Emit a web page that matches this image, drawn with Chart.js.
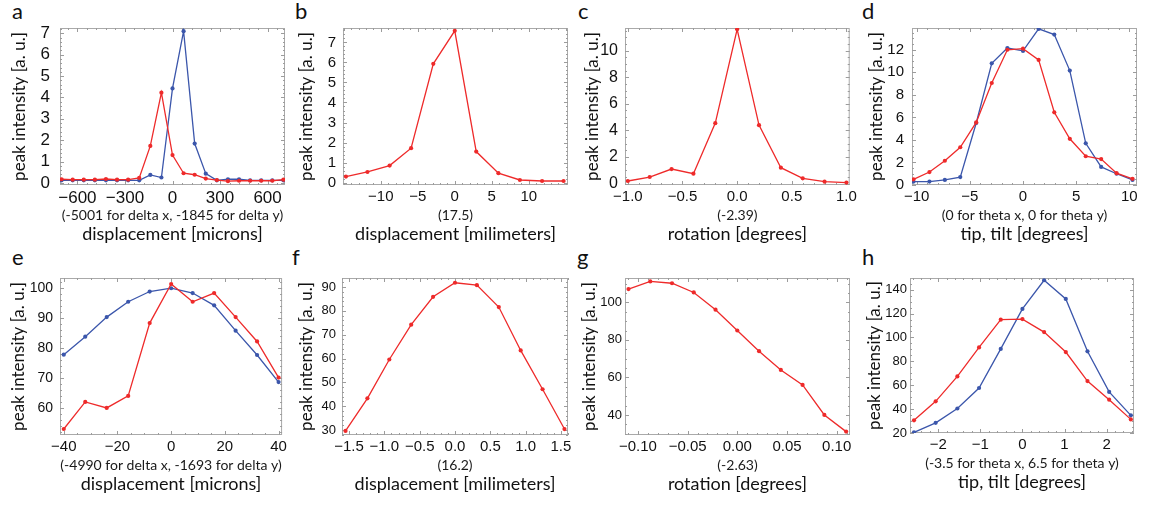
<!DOCTYPE html>
<html>
<head>
<meta charset="utf-8">
<script src="https://cdn.jsdelivr.net/npm/chart.js@4.4.0/dist/chart.umd.min.js"></script>
<style>
  body { margin: 0; background: #fff; width: 1165px; height: 506px; position: relative; overflow: hidden; }
  .panel { position: absolute; }
  .letter { position: absolute; font-family: Lato, sans-serif; font-size: 22px; color: #111; line-height: 1; }
</style>
</head>
<body>
<div class="letter" style="left:12px;top:0px">a</div>
<div class="letter" style="left:295px;top:0px">b</div>
<div class="letter" style="left:578px;top:0px">c</div>
<div class="letter" style="left:862px;top:0px">d</div>
<div class="letter" style="left:12px;top:246px">e</div>
<div class="letter" style="left:292px;top:246px">f</div>
<div class="letter" style="left:577px;top:246px">g</div>
<div class="letter" style="left:862px;top:246px">h</div>

<script>
// panel a: displacement, microns
const aX = [-700, -630, -560, -490, -420, -350, -280, -210, -140, -70, 0, 70, 140, 210, 280, 350, 420, 490, 560, 630, 700];
const aRed = [0.17, 0.15, 0.15, 0.15, 0.18, 0.15, 0.15, 0.23, 1.73, 4.22, 1.3, 0.45, 0.38, 0.2, 0.13, 0.08, 0.1, 0.1, 0.1, 0.1, 0.15];
const aBlue = [0.12, 0.12, 0.12, 0.12, 0.12, 0.12, 0.12, 0.12, 0.37, 0.25, 4.42, 7.1, 1.84, 0.43, 0.12, 0.17, 0.17, 0.12, 0.12, 0.12, 0.12];
const aXTicks = [-600, -300, 0, 300, 600];
const aYTicks = [0, 1, 2, 3, 4, 5, 6, 7];

// panel b: displacement, millimeters
const bX = [-14.7, -11.8, -8.8, -5.9, -2.9, 0, 2.9, 5.9, 8.8, 11.8, 14.7];
const bRed = [0.3, 0.53, 0.85, 1.72, 5.93, 7.58, 1.55, 0.47, 0.13, 0.08, 0.08];
const bXTicks = [-10, -5, 0, 5, 10];
const bYTicks = [0, 1, 2, 3, 4, 5, 6, 7];

// panel c: rotation
const cX = [-1, -0.8, -0.6, -0.4, -0.2, 0, 0.2, 0.4, 0.6, 0.8, 1];
const cRed = [0.2, 0.5, 1.1, 0.75, 4.55, 11.6, 4.4, 1.2, 0.4, 0.15, 0.08];
const cXTicks = [-1, -0.5, 0, 0.5, 1];
const cYTicks = [0, 2, 4, 6, 8, 10];

// panel d: tip / tilt
const dX = [-10.3, -8.8, -7.35, -5.9, -4.4, -2.94, -1.47, 0, 1.47, 2.94, 4.4, 5.9, 7.35, 8.8, 10.3];
const dRed = [0.5, 1.15, 2.15, 3.35, 5.55, 9.05, 12.0, 12.1, 11.1, 6.45, 4.1, 2.55, 2.3, 1.05, 0.55];
const dBlue = [0.3, 0.3, 0.45, 0.7, 5.5, 10.8, 12.15, 11.9, 13.85, 13.35, 10.15, 3.7, 1.6, 1.0, 0.45];
const dXTicks = [-10, -5, 0, 5, 10];
const dYTicks = [0, 2, 4, 6, 8, 10, 12];

// panel e
const eX = [-40, -32, -24, -16, -8, 0, 8, 16, 24, 32, 40];
const eRed = [53.1, 62.1, 60.1, 64.1, 88.3, 101.3, 95.4, 98.3, 90.3, 82.2, 70.2];
const eBlue = [77.8, 83.8, 90.3, 95.4, 98.8, 99.9, 98.3, 94.2, 85.8, 77.7, 68.7];
const eXTicks = [-40, -20, 0, 20, 40];
const eYTicks = [60, 70, 80, 90, 100];

// panel f
const fX = [-1.55, -1.24, -0.93, -0.62, -0.31, 0, 0.31, 0.62, 0.93, 1.24, 1.55];
const fRed = [29.6, 43.3, 59.6, 74.2, 85.9, 91.8, 90.8, 81.6, 63.4, 47.1, 30.4];
const fXTicks = [-1.5, -1, -0.5, 0, 0.5, 1, 1.5];
const fYTicks = [30, 40, 50, 60, 70, 80, 90];

// panel g
const gX = [-0.1095, -0.0876, -0.0657, -0.0438, -0.0219, 0, 0.0219, 0.0438, 0.0657, 0.0876, 0.1095];
const gRed = [107.1, 111.2, 110.2, 105.3, 96.1, 85.0, 74.0, 64.0, 56.0, 40.0, 31.1];
const gXTicks = [-0.1, -0.05, 0, 0.05, 0.1];
const gYTicks = [40, 60, 80, 100];

// panel h
const hX = [-2.575, -2.06, -1.545, -1.03, -0.515, 0, 0.515, 1.03, 1.545, 2.06, 2.575];
const hRed = [30.6, 46.5, 67.4, 91.7, 114.9, 115.4, 104.5, 87.8, 63.5, 47.9, 31.4];
const hBlue = [20.6, 28.5, 40.5, 57.7, 90.4, 123.9, 147.9, 132.3, 88.4, 54.4, 34.8];
const hXTicks = [-2, -1, 0, 1, 2];
const hYTicks = [20, 40, 60, 80, 100, 120, 140];

const RED = '#ee2a2a';
const BLUE = '#3b56ab';
const TICK_FONT = '"Liberation Sans", Arial, sans-serif';
const LABEL_FONT = 'Lato, "Open Sans", sans-serif';
const Y_TITLE = 'peak intensity [a. u.]';

function fmt(dec) {
  return v => {
    const s = Number(v).toFixed(dec);
    return s.startsWith('-') ? '\u2212' + s.slice(1) : s;
  };
}

// gray frame with inward tick marks on all four sides + the small note line
const framePlugin = {
  id: 'frame',
  beforeDatasetsDraw(chart, args, opts) {
    const { ctx, chartArea: a, scales: { x, y } } = chart;
    ctx.save();
    ctx.strokeStyle = '#a9a9a9';
    ctx.lineWidth = 1;
    ctx.strokeRect(a.left + 0.5, a.top + 0.5, a.right - a.left - 1, a.bottom - a.top - 1);
    ctx.strokeStyle = '#9c9c9c';
    const marks = (scale, minor, major, horiz) => {
      const start = Math.ceil(scale.min / minor - 1e-6);
      const end = Math.floor(scale.max / minor + 1e-6);
      for (let i = start; i <= end; i++) {
        const v = i * minor;
        const isMajor = major.some(m => Math.abs(m - v) < minor / 100);
        const len = isMajor ? 4 : 2;
        const p = Math.round(scale.getPixelForValue(v)) + 0.5;
        ctx.beginPath();
        if (horiz) {
          ctx.moveTo(p, a.bottom); ctx.lineTo(p, a.bottom - len);
          ctx.moveTo(p, a.top); ctx.lineTo(p, a.top + len);
        } else {
          ctx.moveTo(a.left, p); ctx.lineTo(a.left + len, p);
          ctx.moveTo(a.right, p); ctx.lineTo(a.right - len, p);
        }
        ctx.stroke();
      }
    };
    marks(x, opts.xMinor, opts.xTicks, true);
    marks(y, opts.yMinor, opts.yTicks, false);
    ctx.restore();
  },
  afterDraw(chart, args, opts) {
    const { ctx, chartArea: a } = chart;
    ctx.save();
    ctx.font = '14px ' + LABEL_FONT;
    ctx.fillStyle = '#1a1a1a';
    ctx.textAlign = 'center';
    ctx.textBaseline = 'middle';
    ctx.fillText(opts.note, (a.left + a.right) / 2, a.bottom + 30);
    ctx.restore();
  }
};

const panels = [
  { box: [0, 0, 290, 255], area: [60, 28, 285, 185],
    x: { min: -710, max: 710, ticks: aXTicks, minor: 60, dec: 0, size: 17 },
    y: { min: -0.1, max: 7.25, ticks: aYTicks, minor: 0.2, dec: 0, size: 17, pad: 10 }, yTitlePad: 9,
    note: '(-5001 for delta x, -1845 for delta y)', xTitle: 'displacement [microns]',
    series: [[aX, aRed, RED], [aX, aBlue, BLUE]] },
  { box: [290, 0, 285, 255], area: [343, 28, 568, 185],
    x: { min: -15.1, max: 15.3, ticks: bXTicks, minor: 1, dec: 0, size: 15 },
    y: { min: -0.12, max: 7.72, ticks: bYTicks, minor: 0.2, dec: 0, size: 15, pad: 7 }, yTitlePad: 6,
    note: '(17.5)', xTitle: 'displacement [milimeters]',
    series: [[bX, bRed, RED]] },
  { box: [575, 0, 285, 255], area: [625, 28, 851, 185],
    x: { min: -1.026, max: 1.03, ticks: cXTicks, minor: 0.1, dec: 1, size: 15 },
    y: { min: -0.1, max: 11.7, ticks: cYTicks, minor: 0.5, dec: 0, size: 16, pad: 7 }, yTitlePad: 7,
    note: '(-2.39)', xTitle: 'rotation [degrees]',
    series: [[cX, cRed, RED]] },
  { box: [860, 0, 305, 255], area: [912, 28, 1137, 185],
    x: { min: -10.44, max: 10.72, ticks: dXTicks, minor: 1, dec: 0, size: 15 },
    y: { min: 0, max: 13.93, ticks: dYTicks, minor: 0.5, dec: 0, size: 15, pad: 8 }, yTitlePad: 6,
    note: '(0 for theta x, 0 for theta y)', xTitle: 'tip, tilt [degrees]',
    series: [[dX, dRed, RED], [dX, dBlue, BLUE]] },
  { box: [0, 255, 290, 251], area: [60, 278, 285, 435],
    x: { min: -41.4, max: 41.3, ticks: eXTicks, minor: 5, dec: 0, size: 15 },
    y: { min: 51.1, max: 103.3, ticks: eYTicks, minor: 2, dec: 0, size: 14, pad: 7 }, yTitlePad: 8,
    note: '(-4990 for delta x, -1693 for delta y)', xTitle: 'displacement [microns]',
    series: [[eX, eRed, RED], [eX, eBlue, BLUE]] },
  { box: [290, 255, 285, 251], area: [342, 278, 568, 435],
    x: { min: -1.6, max: 1.6, ticks: fXTicks, minor: 0.1, dec: 1, size: 15 },
    y: { min: 27.9, max: 93.8, ticks: fYTicks, minor: 2, dec: 0, size: 13, pad: 6 }, yTitlePad: 6,
    note: '(16.2)', xTitle: 'displacement [milimeters]',
    series: [[fX, fRed, RED]] },
  { box: [575, 255, 285, 251], area: [625, 278, 850, 435],
    x: { min: -0.113, max: 0.1134, ticks: gXTicks, minor: 0.01, dec: 2, size: 15 },
    y: { min: 29.3, max: 113, ticks: gYTicks, minor: 5, dec: 0, size: 13, pad: 3 }, yTitlePad: 4,
    note: '(-2.63)', xTitle: 'rotation [degrees]',
    series: [[gX, gRed, RED]] },
  { box: [860, 255, 305, 251], area: [910, 278, 1134, 433],
    x: { min: -2.67, max: 2.65, ticks: hXTicks, minor: 0.2, dec: 0, size: 15 },
    y: { min: 20, max: 149.8, ticks: hYTicks, minor: 5, dec: 0, size: 13, pad: 3 }, yTitlePad: 4,
    note: '(-3.5 for theta x, 6.5 for theta y)', xTitle: 'tip, tilt [degrees]',
    series: [[hX, hRed, RED], [hX, hBlue, BLUE]] }
];

function makePanel(p) {
  const [bx, by, bw, bh] = p.box;
  const [l, t, r, b] = p.area;
  const div = document.createElement('div');
  div.className = 'panel';
  div.style.cssText = `left:${bx}px;top:${by}px;width:${bw}px;height:${bh}px`;
  const canvas = document.createElement('canvas');
  div.appendChild(canvas);
  document.body.appendChild(div);

  // x title centre sits ~50px under the plot box
  const xTitleSize = 18;
  const xTitleCenter = b + 49;
  const xTitlePad = by + bh - xTitleCenter - xTitleSize * 1.2 / 2;

  new Chart(canvas, {
    type: 'scatter',
    data: {
      datasets: p.series.map(([xs, ys, color]) => ({
        data: xs.map((xv, i) => ({ x: xv, y: ys[i] })),
        showLine: true,
        borderColor: color,
        backgroundColor: color,
        borderWidth: 1.3,
        pointRadius: 2.1,
        pointBorderWidth: 0,
        tension: 0
      }))
    },
    options: {
      responsive: true,
      maintainAspectRatio: false,
      animation: false,
      events: [],
      layout: { padding: { left: 0, top: t - by, right: bx + bw - r, bottom: 0 } },
      plugins: {
        legend: { display: false },
        tooltip: { enabled: false },
        frame: { xMinor: p.x.minor, xTicks: p.x.ticks, yMinor: p.y.minor, yTicks: p.y.ticks, note: p.note }
      },
      scales: {
        x: {
          type: 'linear',
          min: p.x.min,
          max: p.x.max,
          grid: { display: false, drawTicks: false },
          border: { display: false },
          ticks: {
            autoSkip: false,
            maxRotation: 0,
            padding: 3,
            color: '#111',
            font: { family: TICK_FONT, size: p.x.size },
            callback: fmt(p.x.dec)
          },
          afterBuildTicks: s => { s.ticks = p.x.ticks.map(v => ({ value: v })); },
          title: {
            display: true,
            text: p.xTitle,
            color: '#111',
            font: { family: LABEL_FONT, size: xTitleSize },
            padding: { top: 0, bottom: xTitlePad }
          },
          afterFit: s => { s.height = by + bh - b; }
        },
        y: {
          type: 'linear',
          min: p.y.min,
          max: p.y.max,
          grid: { display: false, drawTicks: false },
          border: { display: false },
          ticks: {
            autoSkip: false,
            padding: p.y.pad,
            color: '#111',
            font: { family: TICK_FONT, size: p.y.size },
            callback: fmt(p.y.dec)
          },
          afterBuildTicks: s => { s.ticks = p.y.ticks.map(v => ({ value: v })); },
          title: {
            display: true,
            text: Y_TITLE,
            color: '#111',
            font: { family: LABEL_FONT, size: 17 },
            padding: { top: p.yTitlePad, bottom: 0 }
          },
          afterFit: s => { s.width = l - bx; }
        }
      }
    },
    plugins: [framePlugin]
  });
}

panels.forEach(makePanel);
</script>
</body>
</html>
